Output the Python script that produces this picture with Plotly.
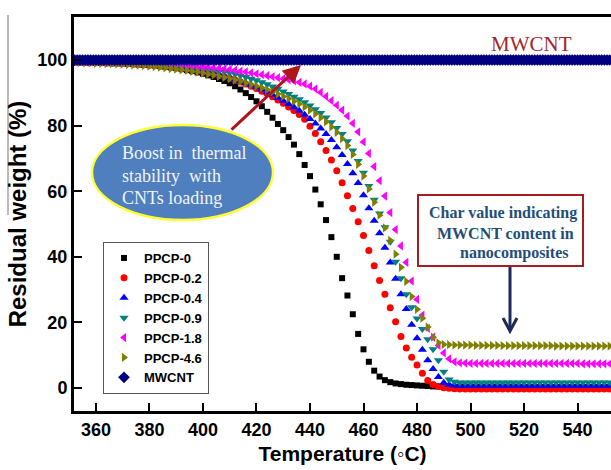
import plotly.graph_objects as go

# ---------------- data ----------------
temps = list(range(352, 553, 2))          # 2 °C sampling for PPCP series
temps_mwcnt = list(range(352, 553))       # 1 °C sampling for MWCNT

series_names = ["PPCP-0", "PPCP-0.2", "PPCP-0.4", "PPCP-0.9", "PPCP-1.8", "PPCP-4.6", "MWCNT"]

ppcp_0 = [
    99.3, 99.3, 99.2, 99.2, 99.2, 99.1, 99.1, 99.0, 99.0, 98.9,
    98.8, 98.7, 98.6, 98.5, 98.4, 98.3, 98.1, 97.9, 97.7, 97.5,
    97.2, 96.9, 96.6, 96.2, 95.8, 95.3, 94.8, 94.2, 93.6, 92.9,
    92.0, 91.0, 89.9, 88.7, 87.4, 85.9, 84.2, 82.4, 80.5, 78.6,
    76.5, 74.2, 71.3, 68.0, 64.6, 60.5, 56.0, 51.2, 46.0, 40.0,
    33.5, 28.2, 22.5, 16.5, 11.8, 8.0, 5.3, 3.5, 2.4, 1.8,
    1.4, 1.2, 1.0, 0.9, 0.8, 0.7, 0.6, 0.5, 0.5, 0.4,
    0.4, 0.4, 0.4, 0.4, 0.4, 0.4, 0.4, 0.4, 0.4, 0.4,
    0.4, 0.4, 0.4, 0.4, 0.3, 0.3, 0.3, 0.3, 0.3, 0.3,
    0.3, 0.3, 0.3, 0.3, 0.3, 0.3, 0.3, 0.3, 0.3, 0.3,
    0.3,
]
ppcp_02 = [
    99.3, 99.3, 99.3, 99.2, 99.2, 99.2, 99.1, 99.1, 99.0, 99.0,
    98.9, 98.8, 98.7, 98.6, 98.5, 98.4, 98.2, 98.1, 97.9, 97.7,
    97.5, 97.3, 97.0, 96.7, 96.4, 96.1, 95.7, 95.3, 94.9, 94.4,
    93.9, 93.3, 92.7, 92.0, 91.3, 90.5, 89.7, 88.8, 87.8, 86.8,
    85.7, 84.6, 83.4, 81.9, 79.8, 77.6, 75.1, 72.4, 69.5, 66.2,
    62.6, 58.6, 54.7, 50.7, 46.5, 41.9, 37.3, 32.8, 28.6, 24.5,
    20.2, 15.7, 12.2, 9.4, 7.0, 4.5, 2.3, 1.1, 0.5, 0.1,
    -0.1, -0.2, -0.3, -0.3, -0.3, -0.3, -0.3, -0.3, -0.3, -0.3,
    -0.3, -0.3, -0.3, -0.3, -0.3, -0.3, -0.3, -0.3, -0.3, -0.3,
    -0.3, -0.3, -0.3, -0.3, -0.3, -0.3, -0.3, -0.3, -0.3, -0.3,
    -0.3,
]
ppcp_04 = [
    99.3, 99.3, 99.3, 99.3, 99.2, 99.2, 99.2, 99.1, 99.1, 99.0,
    99.0, 98.9, 98.8, 98.7, 98.6, 98.5, 98.3, 98.2, 98.0, 97.8,
    97.6, 97.4, 97.1, 96.8, 96.5, 96.2, 95.8, 95.4, 95.0, 94.5,
    94.0, 93.5, 92.9, 92.3, 91.7, 91.0, 90.2, 89.4, 88.5, 87.6,
    86.6, 85.6, 84.5, 83.3, 82.0, 80.6, 79.1, 77.4, 75.6, 73.4,
    71.0, 68.3, 65.5, 62.5, 58.8, 54.8, 51.0, 47.2, 42.8, 38.3,
    33.3, 28.6, 24.1, 19.3, 15.2, 11.7, 8.5, 5.8, 3.4, 1.6,
    1.0, 0.8, 0.7, 0.7, 0.7, 0.7, 0.7, 0.7, 0.7, 0.7,
    0.7, 0.7, 0.7, 0.7, 0.7, 0.7, 0.7, 0.7, 0.7, 0.7,
    0.7, 0.7, 0.7, 0.7, 0.7, 0.7, 0.7, 0.7, 0.7, 0.7,
    0.7,
]
ppcp_09 = [
    99.3, 99.3, 99.3, 99.2, 99.2, 99.2, 99.1, 99.1, 99.1, 99.0,
    99.0, 98.9, 98.9, 98.8, 98.7, 98.6, 98.5, 98.4, 98.3, 98.2,
    98.0, 97.9, 97.7, 97.5, 97.3, 97.1, 96.9, 96.6, 96.4, 96.1,
    95.7, 95.3, 94.8, 94.3, 93.8, 93.2, 92.6, 91.9, 91.2, 90.4,
    89.6, 88.8, 88.0, 87.1, 86.1, 85.0, 83.8, 82.5, 81.0, 79.3,
    77.4, 75.2, 72.4, 69.2, 65.6, 61.6, 57.4, 53.2, 49.0, 44.6,
    38.5, 33.5, 28.6, 24.6, 21.2, 18.0, 14.9, 11.8, 8.5, 5.0,
    2.6, 1.9, 1.7, 1.7, 1.7, 1.7, 1.7, 1.7, 1.7, 1.7,
    1.7, 1.7, 1.7, 1.7, 1.7, 1.7, 1.7, 1.7, 1.7, 1.7,
    1.7, 1.7, 1.7, 1.7, 1.7, 1.7, 1.7, 1.7, 1.7, 1.7,
    1.7,
]
ppcp_18 = [
    99.5, 99.5, 99.4, 99.4, 99.4, 99.4, 99.3, 99.3, 99.3, 99.2,
    99.2, 99.1, 99.1, 99.0, 99.0, 98.9, 98.9, 98.8, 98.7, 98.6,
    98.5, 98.4, 98.3, 98.2, 98.0, 97.9, 97.7, 97.5, 97.3, 97.1,
    96.9, 96.6, 96.4, 96.1, 95.8, 95.5, 95.2, 94.9, 94.6, 94.3,
    94.0, 93.6, 93.2, 92.7, 92.0, 91.2, 90.1, 88.9, 87.6, 86.2,
    84.7, 82.9, 80.7, 78.1, 75.0, 71.5, 67.5, 63.2, 58.5, 53.5,
    48.3, 43.3, 38.3, 32.6, 27.0, 22.2, 18.2, 15.5, 13.0, 10.7,
    8.9, 8.0, 7.7, 7.6, 7.5, 7.5, 7.5, 7.5, 7.5, 7.5,
    7.5, 7.5, 7.5, 7.5, 7.5, 7.5, 7.5, 7.5, 7.5, 7.5,
    7.5, 7.5, 7.5, 7.5, 7.5, 7.4, 7.4, 7.4, 7.4, 7.4,
    7.4,
]
ppcp_46 = [
    99.2, 99.2, 99.1, 99.1, 99.0, 99.0, 98.9, 98.9, 98.8, 98.7,
    98.6, 98.5, 98.4, 98.3, 98.1, 98.0, 97.8, 97.6, 97.4, 97.2,
    97.0, 96.8, 96.5, 96.3, 96.0, 95.7, 95.4, 95.0, 94.7, 94.3,
    93.9, 93.5, 93.0, 92.5, 92.0, 91.5, 90.9, 90.3, 89.6, 88.9,
    88.2, 87.4, 86.6, 85.7, 84.7, 83.6, 82.4, 81.1, 79.6, 77.9,
    76.0, 73.9, 71.2, 68.2, 64.6, 60.7, 56.6, 52.7, 48.8, 45.0,
    40.8, 36.8, 32.5, 27.9, 24.0, 21.3, 18.6, 15.5, 13.8, 13.3,
    13.2, 13.1, 13.1, 13.1, 13.1, 13.0, 13.0, 13.0, 13.0, 13.0,
    12.9, 12.9, 12.9, 12.9, 12.9, 12.9, 12.9, 12.9, 12.9, 12.9,
    12.8, 12.8, 12.8, 12.8, 12.8, 12.8, 12.8, 12.8, 12.8, 12.8,
    12.8,
]
mwcnt = [
    100, 100, 100, 100, 100, 100, 100, 100, 100, 100, 100, 100, 100, 100, 100, 100, 100, 100, 100, 100,
    100, 100, 100, 100, 100, 100, 100, 100, 100, 100, 100, 100, 100, 100, 100, 100, 100, 100, 100, 100,
    100, 100, 100, 100, 100, 100, 100, 100, 100, 100, 100, 100, 100, 100, 100, 100, 100, 100, 100, 100,
    100, 100, 100, 100, 100, 100, 100, 100, 100, 100, 100, 100, 100, 100, 100, 100, 100, 100, 100, 100,
    100, 100, 100, 100, 100, 100, 100, 100, 100, 100, 100, 100, 100, 100, 100, 100, 100, 100, 100, 100,
    100, 100, 100, 100, 100, 100, 100, 100, 100, 100, 100, 100, 100, 100, 100, 100, 100, 100, 100, 100,
    100, 100, 100, 100, 100, 100, 100, 100, 100, 100, 100, 100, 100, 100, 100, 100, 100, 100, 100, 100,
    100, 100, 100, 100, 100, 100, 100, 100, 100, 100, 100, 100, 100, 100, 100, 100, 100, 100, 100, 100,
    100, 100, 100, 100, 100, 100, 100, 100, 100, 100, 100, 100, 100, 100, 100, 100, 100, 100, 100, 100,
    100, 100, 100, 100, 100, 100, 100, 100, 100, 100, 100, 100, 100, 100, 100, 100, 100, 100, 100, 100,
    100,
]

x_ticks = [360, 380, 400, 420, 440, 460, 480, 500, 520, 540]
y_ticks = [0, 20, 40, 60, 80, 100]

# ---------------- styling ----------------
W, H = 611, 470
L, R, T, B = 74, 611, 17, 411


def px(x):
    return (x - L) / (R - L)


def py(y):
    return (B - y) / (B - T)


styles = [
    ("square", 6, "#000000"),
    ("circle", 7, "#FF0000"),
    ("triangle-up", 8, "#0000FF"),
    ("triangle-down", 8, "#008080"),
    ("triangle-left", 8, "#FF00FF"),
    ("triangle-right", 8, "#808000"),
    ("diamond", 9, "#000080"),
]
ys = [ppcp_0, ppcp_02, ppcp_04, ppcp_09, ppcp_18, ppcp_46, mwcnt]
xs = [temps] * 6 + [temps_mwcnt]

fig = go.Figure()
for name, x, y, (sym, size, col) in zip(series_names, xs, ys, styles):
    fig.add_trace(go.Scatter(
        x=x, y=y, mode="markers", name=name,
        marker=dict(symbol=sym, size=size, color=col, line=dict(width=0)),
    ))

tickfont = dict(family="Arial", size=18, color="black", weight="bold")
serif = "Times New Roman, Liberation Serif, serif"

fig.update_layout(
    width=W, height=H,
    margin=dict(l=L, r=W - R, t=T, b=H - B),
    paper_bgcolor="white", plot_bgcolor="white",
    showlegend=True,
    legend=dict(
        x=px(103), y=py(242), xanchor="left", yanchor="top",
        bgcolor="white", bordercolor="#555555", borderwidth=1,
        font=dict(family="Arial", size=13, color="black", weight="bold"),
        itemwidth=30, tracegroupgap=0,
    ),
    xaxis=dict(
        range=[351.8, 552.5], tickvals=x_ticks, ticks="inside", ticklen=8, tickwidth=2,
        tickcolor="black", showline=True, linewidth=3, linecolor="black", mirror=True,
        showgrid=False, zeroline=False, tickfont=tickfont, automargin=False,
        title=dict(text="Temperature (◦C)", font=dict(family="Arial", size=21, color="black", weight="bold"),
                   standoff=8),
    ),
    yaxis=dict(
        range=[-7.0, 113.1], tickvals=y_ticks, ticks="inside", ticklen=8, tickwidth=2,
        tickcolor="black", showline=True, linewidth=3, linecolor="black", mirror=False,
        showgrid=False, zeroline=False, tickfont=tickfont, automargin=False,
        title=dict(text="Residual weight (%)", font=dict(family="Arial", size=24, color="black", weight="bold"),
                   standoff=4),
    ),
)

shapes = [
    # thin grey line at far left
    dict(type="line", xref="paper", yref="paper", x0=px(8), x1=px(8), y0=py(15), y1=py(215),
         line=dict(color="#777777", width=1)),
    # ellipse
    dict(type="circle", xref="paper", yref="paper", x0=px(92), x1=px(273), y0=py(220), y1=py(125),
         fillcolor="#4F7FBE", line=dict(color="#FFFF33", width=2.5), layer="above"),
    # char value box
    dict(type="rect", xref="paper", yref="paper", x0=px(418), x1=px(583), y0=py(266), y1=py(195),
         fillcolor="white", line=dict(color="#A31C22", width=2), layer="above"),
    # navy arrow shaft
    dict(type="line", xref="paper", yref="paper", x0=px(510), x1=px(510), y0=py(267), y1=py(330),
         line=dict(color="#1B2A5A", width=3), layer="above"),
    # navy arrow head (open V)
    dict(type="path", xref="paper", yref="paper",
         path=f"M {px(503)},{py(318)} L {px(510)},{py(331)} L {px(517)},{py(318)}",
         line=dict(color="#1B2A5A", width=3), layer="above"),
]
fig.update_layout(shapes=shapes)

ann = []
ann.append(dict(xref="paper", yref="paper", x=px(531), y=py(44), text="MWCNT", showarrow=False,
                font=dict(family=serif, size=21, color="#A3262B"), xanchor="center", yanchor="middle"))
for txt, yy in [("Boost in  thermal", 153), ("stability  with", 176), ("CNTs loading", 198)]:
    ann.append(dict(xref="paper", yref="paper", x=px(120), y=py(yy), text=txt, showarrow=False,
                    font=dict(family=serif, size=18, color="#F2F4F8"), xanchor="left", yanchor="middle"))
for txt, xx, yy in [("Char value indicating", 503, 213), ("MWCNT content in", 505, 233),
                    ("nanocomposites", 514, 253)]:
    ann.append(dict(xref="paper", yref="paper", x=px(xx), y=py(yy), text=txt, showarrow=False,
                    font=dict(family=serif, size=16, color="#1F4E79", weight="bold"),
                    xanchor="center", yanchor="middle"))
# red arrow
ann.append(dict(xref="paper", yref="paper", x=px(301), y=py(65), ax=230 - 301, ay=131 - 65,
                axref="pixel", ayref="pixel", text="", showarrow=True, arrowhead=2, arrowsize=1.2,
                arrowwidth=3, arrowcolor="#B0141C"))
fig.update_layout(annotations=ann)

fig.write_html("out.html")
